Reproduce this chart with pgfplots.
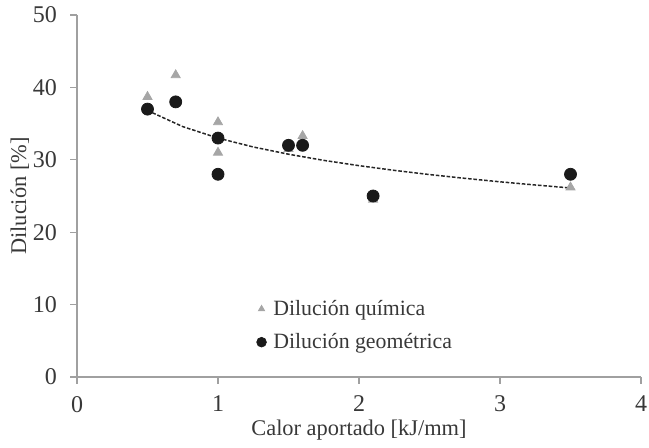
\documentclass[border=0pt]{standalone}
\usepackage{fontspec}
\setmainfont{Liberation Serif}
\usepackage{pgfplots}
\pgfplotsset{compat=1.18}
\definecolor{tri}{HTML}{A6A6A6}
\definecolor{dot}{HTML}{1A1A1A}
\definecolor{axg}{HTML}{A0A0A0}
\definecolor{txt}{HTML}{383838}
\begin{document}
\begin{tikzpicture}
\begin{axis}[
  scale only axis, width=282pt, height=181pt,
  xmin=0, xmax=4, ymin=0, ymax=50,
  xtick={0,1,2,3,4}, ytick={0,10,20,30,40,50},
  axis x line*=bottom, axis y line*=left,
  axis line style={draw=axg, line width=0.6pt},
  tick style={draw=axg, line width=0.6pt},
  tick align=outside, major tick length=3.5pt,
  every tick label/.append style={font=\fontsize{12}{14}\selectfont, text=txt},
  yticklabel style={xshift=-3pt},
  xticklabel style={yshift=-2.5pt},
  /pgf/number format/assume math mode=true,
  xlabel={Calor aportado [kJ/mm]}, ylabel={Dilución [\%]},
  label style={font=\fontsize{11.2}{13}\selectfont, text=txt},
  xlabel style={yshift=3pt}, ylabel style={yshift=-5pt},
  legend style={draw=none, fill=none, at={(0.318,0.225)}, anchor=north west,
    font=\fontsize{10.9}{13}\selectfont, text=txt, row sep=3.5pt,
    inner sep=0pt},
  legend cell align=left,
  clip=false,
]
\addplot[only marks, mark=triangle*, mark size=2.6pt, color=tri,
  legend image post style={mark size=1.8pt}]
  coordinates {(0.5,38.7) (0.7,41.7) (1.0,35.2) (1.0,31.0) (1.5,31.5) (1.6,33.3) (2.1,24.5) (3.5,26.2)};
\addlegendentry{\hspace{1.5pt}Dilución química}
\addplot[only marks, mark=*, mark size=3pt, color=dot,
  legend image post style={mark size=2.4pt}]
  coordinates {(0.5,37) (0.7,38) (1.0,33) (1.0,28) (1.5,32) (1.6,32) (2.1,25) (3.5,28)};
\addlegendentry{\hspace{1.5pt}Dilución geométrica}
\addplot[no marks, black!85, line width=0.75pt, dash pattern=on 1.8pt off 0.9pt, forget plot]
  coordinates {(0.5,36.81) (0.75,34.58) (1,33.0) (1.25,31.77) (1.5,30.77) (1.75,29.92) (2,29.19) (2.25,28.54) (2.5,27.96) (2.75,27.44) (3,26.96) (3.25,26.52) (3.5,26.11)};
\coordinate (ll) at (rel axis cs:0,0);
\coordinate (ur) at (rel axis cs:1,1);
\end{axis}
\pgfresetboundingbox
\path ([shift={(-38.5pt,-35pt)}]ll) rectangle ([shift={(4pt,7.5pt)}]ur);
\end{tikzpicture}
\end{document}
